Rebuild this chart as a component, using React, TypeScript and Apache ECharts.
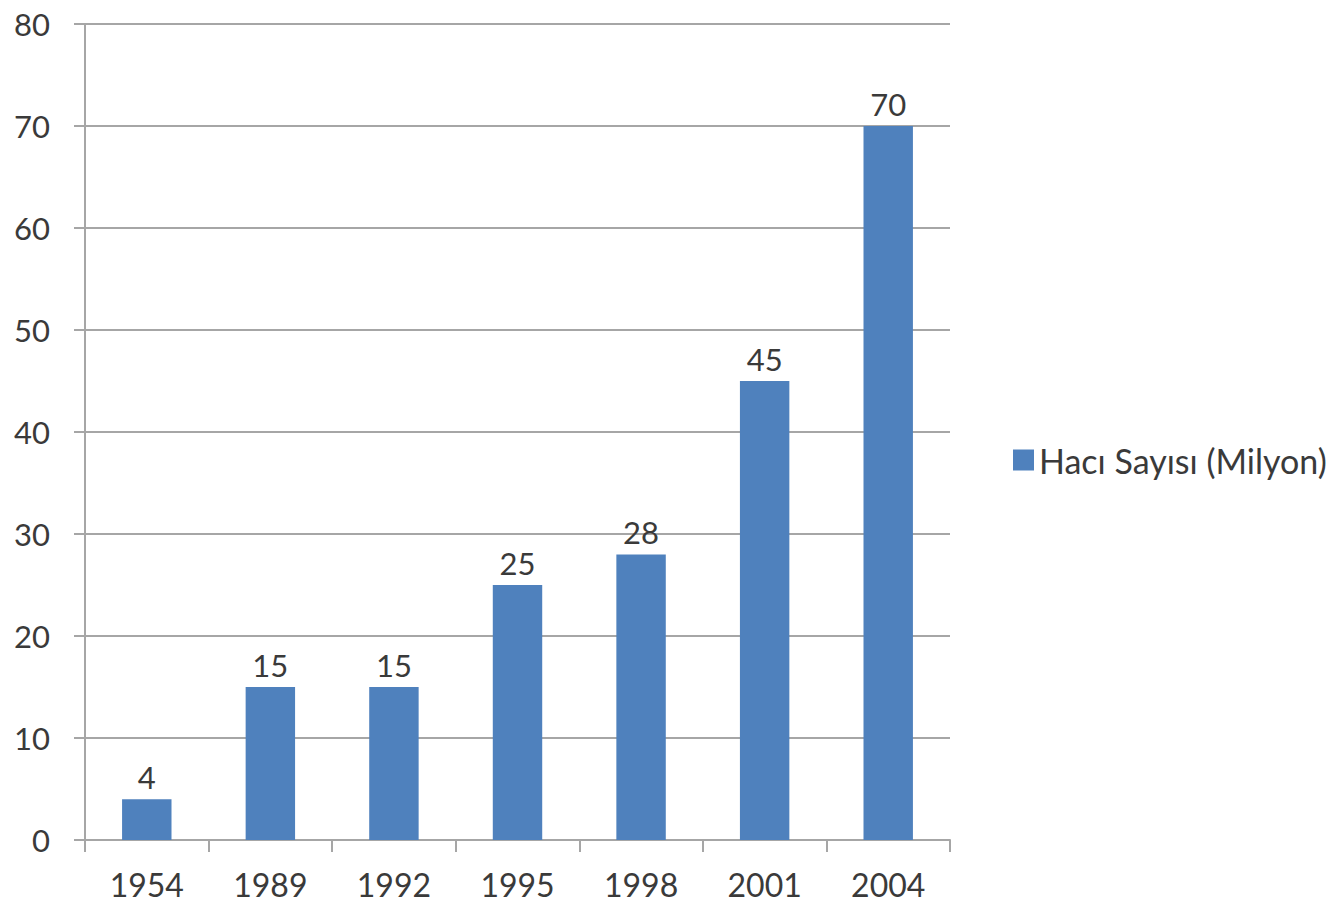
import React, { useEffect, useRef } from "react";
import * as echarts from "echarts";

const categories = ["1954", "1989", "1992", "1995", "1998", "2001", "2004"];
const values = [4, 15, 15, 25, 28, 45, 70];
const seriesName = "Hacı Sayısı (Milyon)";

export default function App() {
  const ref = useRef<HTMLDivElement>(null);
  useEffect(() => {
    const chart = echarts.init(ref.current!, null, { renderer: "svg" });
    const font = "Lato, 'Open Sans', sans-serif";
    chart.setOption({
      animation: false,
      backgroundColor: "#ffffff",
      grid: { left: 85, right: 392, top: 24, bottom: 67, containLabel: false },
      legend: {
        left: 1008,
        top: 438,
        orient: "vertical",
        itemWidth: 21,
        itemHeight: 21,
        itemGap: 6,
        icon: "rect",
        textStyle: { fontFamily: font, fontSize: 34, color: "#3a3a3a", padding: [0, 0, 0, 0] },
        data: [seriesName],
      },
      xAxis: {
        type: "category",
        data: categories,
        boundaryGap: true,
        axisLine: { lineStyle: { color: "#a6a6a6", width: 2 } },
        axisTick: { show: true, length: 12, lineStyle: { color: "#a6a6a6", width: 2 } },
        axisLabel: { fontFamily: font, fontSize: 32, color: "#3a3a3a", margin: 28 },
      },
      yAxis: {
        type: "value",
        min: 0,
        max: 80,
        interval: 10,
        axisLine: { show: true, lineStyle: { color: "#a6a6a6", width: 2 } },
        axisTick: { show: true, length: 11, lineStyle: { color: "#a6a6a6", width: 2 } },
        axisLabel: { fontFamily: font, fontSize: 31, color: "#3a3a3a", margin: 35 },
        splitLine: { show: true, lineStyle: { color: "#a6a6a6", width: 2 } },
      },
      series: [
        {
          name: seriesName,
          type: "bar",
          data: values,
          barWidth: "40%",
          itemStyle: { color: "#4F81BD" },
          label: {
            show: true,
            position: "top",
            distance: 7,
            fontFamily: font,
            fontSize: 31,
            color: "#3a3a3a",
          },
        },
      ],
    });
    return () => chart.dispose();
  }, []);
  return (
    <div
      ref={ref}
      style={{ position: "fixed", left: 0, top: 0, width: 1342, height: 907 }}
    />
  );
}
